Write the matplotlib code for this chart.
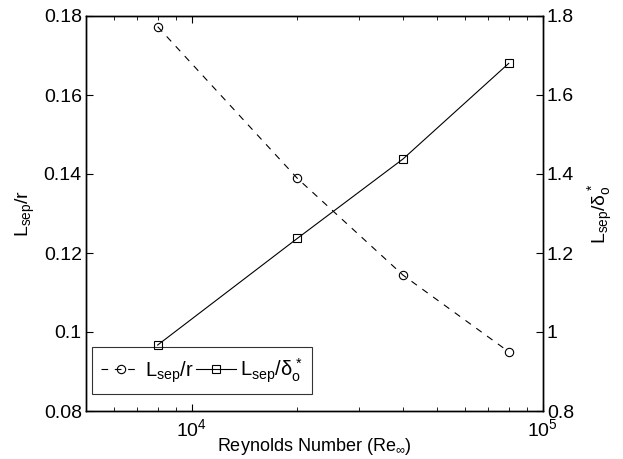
import matplotlib
matplotlib.use('Agg')
import matplotlib.pyplot as plt

plt.rcParams['font.family'] = ['Liberation Sans', 'DejaVu Sans']
plt.rcParams['mathtext.fontset'] = 'custom'
plt.rcParams['mathtext.rm'] = 'Liberation Sans'
plt.rcParams['mathtext.it'] = 'Liberation Sans'
plt.rcParams['mathtext.sf'] = 'Liberation Sans'

# data
reynolds = [8000, 20000, 40000, 80000]
lsep_r = [0.1773, 0.1389, 0.1144, 0.0950]
lsep_delta = [0.967, 1.237, 1.438, 1.680]

fig = plt.figure(figsize=(6.23, 4.59), dpi=100)
ax = fig.add_axes([86 / 623, 48 / 459, 456.7 / 623, 395 / 459])
ax2 = ax.twinx()

l1, = ax.plot(reynolds, lsep_r, color='black', linestyle=(0, (6, 6)), linewidth=0.8,
              marker='o', markersize=6, markerfacecolor='none', markeredgewidth=0.8)
l2, = ax2.plot(reynolds, lsep_delta, color='black', linestyle='-', linewidth=0.8,
               marker='s', markersize=6, markerfacecolor='none', markeredgewidth=0.8)

ax.set_xscale('log')
ax.set_xlim(5000, 1e5)
ax.set_ylim(0.08, 0.18)
ax2.set_ylim(0.8, 1.8)
ax.set_yticks([0.08, 0.1, 0.12, 0.14, 0.16, 0.18])
ax.set_yticklabels(['0.08', '0.1', '0.12', '0.14', '0.16', '0.18'])
ax2.set_yticks([0.8, 1.0, 1.2, 1.4, 1.6, 1.8])
ax2.set_yticklabels(['0.8', '1', '1.2', '1.4', '1.6', '1.8'])

ax.tick_params(axis='x', which='both', direction='in', top=True, labelsize=14)
ax.tick_params(axis='x', which='major', length=5, width=0.8, pad=5)
ax.tick_params(axis='x', which='minor', length=3, width=0.6)
ax.tick_params(axis='y', direction='in', length=5, width=0.8, labelsize=14, right=False, pad=3)
ax2.tick_params(axis='y', direction='in', length=5, width=0.8, labelsize=14, pad=3)

for a in (ax, ax2):
    for s in a.spines.values():
        s.set_linewidth(1.0)

ax.set_xlabel(r'Reynolds Number (Re$_\infty$)', fontsize=13, labelpad=-3)
ax.set_ylabel(r'L$_{\mathregular{sep}}$/r', fontsize=14, labelpad=5)
ax2.set_ylabel(r'L$_{\mathregular{sep}}$/$\delta_o^*$', fontsize=14, labelpad=9)

leg = ax.legend([l1, l2], [r'L$_{\mathregular{sep}}$/r', r'L$_{\mathregular{sep}}$/$\delta_o^*$'],
                loc='lower left', ncol=2, fontsize=14.5, frameon=True, fancybox=False,
                edgecolor='black', handlelength=2.0, handletextpad=0.2, columnspacing=0.1,
                borderpad=0.45, borderaxespad=0.0, bbox_to_anchor=(0.013, 0.043))
leg.get_frame().set_linewidth(0.8)

fig.savefig('out.png', dpi=100)
